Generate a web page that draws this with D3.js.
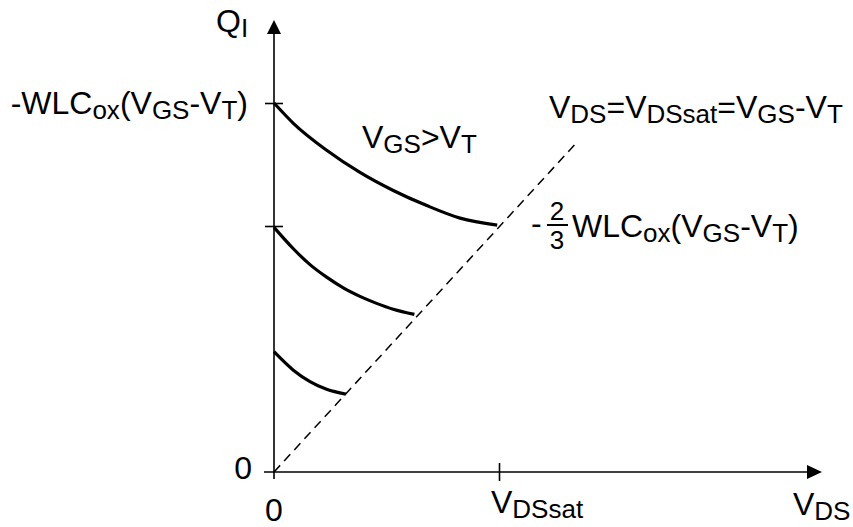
<!DOCTYPE html>
<html>
<head>
<meta charset="utf-8">
<script src="https://cdn.jsdelivr.net/npm/d3@7"></script>
<style>
  body { margin: 0; background: #fff; }
  svg text { font-family: "Liberation Sans", Arial, Helvetica, sans-serif; fill: #000; }
</style>
</head>
<body>
<svg id="chart"></svg>
<script>
// values in units of V_DSsat (x) and WLCox(VGS-VT) (y)
const curveTopX = [0, 0.086, 0.234, 0.382, 0.530, 0.679, 0.827, 0.992];
const curveTopY = [1, 0.945, 0.872, 0.812, 0.763, 0.722, 0.688, 0.669];
const curveMidX = [0, 0.086, 0.160, 0.234, 0.308, 0.382, 0.456, 0.530, 0.624];
const curveMidY = [0.663, 0.605, 0.562, 0.528, 0.499, 0.476, 0.457, 0.441, 0.427];
const curveLowX = [0, 0.086, 0.160, 0.234, 0.319];
const curveLowY = [0.326, 0.276, 0.245, 0.224, 0.211];
const satLineX = [0, 1.347];
const satLineY = [0, 0.894];
const yTicks = [0, 2 / 3, 1];
const xTicks = [1];

document.addEventListener("DOMContentLoaded", function() {
    const width = 853, height = 527;
    const svg = d3.select("#chart").attr("width", width).attr("height", height);

    const x = d3.scaleLinear().domain([0, 1]).range([274, 499]);
    const y = d3.scaleLinear().domain([0, 1]).range([472, 103]);

    const MAIN = 32, SUB = 26, SHIFT = 5;

    // text made of normal and subscript parts
    function label(px, py, parts, anchor) {
        const t = svg.append("text")
            .attr("x", px).attr("y", py)
            .attr("text-anchor", anchor || "start")
            .attr("font-size", MAIN);
        let down = false;
        parts.forEach(p => {
            const sub = p[1];
            const ts = t.append("tspan").text(p[0]).attr("font-size", sub ? SUB : MAIN);
            if (sub && !down) { ts.attr("dy", SHIFT); down = true; }
            else if (!sub && down) { ts.attr("dy", -SHIFT); down = false; }
        });
        return t;
    }

    // axes lines with arrows
    svg.append("line")
       .attr("x1", x(0)).attr("x2", x(0))
       .attr("y1", y(0) + 7).attr("y2", 32)
       .attr("stroke", "#000").attr("stroke-width", 1.6);
    svg.append("path")
       .attr("d", `M${x(0)},20 L${x(0) - 7},34 L${x(0) + 7},34 Z`)
       .attr("fill", "#000");
    svg.append("line")
       .attr("x1", x(0) - 10).attr("x2", 810)
       .attr("y1", y(0)).attr("y2", y(0))
       .attr("stroke", "#000").attr("stroke-width", 1.6);
    svg.append("path")
       .attr("d", `M822,${y(0)} L807,${y(0) - 7} L807,${y(0) + 7} Z`)
       .attr("fill", "#000");

    // tick marks crossing the axes
    const yAxis = svg.append("g")
       .attr("transform", `translate(${x(0) + 9},0)`)
       .call(d3.axisLeft(y).tickValues(yTicks.filter(d => d > 0)).tickSize(18).tickFormat(""));
    yAxis.select(".domain").remove();
    yAxis.selectAll("line").attr("stroke-width", 1.6);

    const xAxis = svg.append("g")
       .attr("transform", `translate(0,${y(0) + 9})`)
       .call(d3.axisTop(x).tickValues(xTicks).tickSize(18).tickFormat(""));
    xAxis.select(".domain").remove();
    xAxis.selectAll("line").attr("stroke-width", 1.6);

    // saturation line
    const line = d3.line().x(d => x(d[0])).y(d => y(d[1]));
    svg.append("path")
       .attr("d", line(d3.zip(satLineX, satLineY)))
       .attr("fill", "none").attr("stroke", "#000")
       .attr("stroke-width", 1.5).attr("stroke-dasharray", "9,6");

    const smooth = d3.line().x(d => x(d[0])).y(d => y(d[1])).curve(d3.curveMonotoneX);
    [[curveTopX, curveTopY], [curveMidX, curveMidY], [curveLowX, curveLowY]].forEach(c => {
        svg.append("path")
           .attr("d", smooth(d3.zip(c[0], c[1])))
           .attr("fill", "none").attr("stroke", "#000")
           .attr("stroke-width", 3.2);
    });

    // labels
    label(216, 32, [["Q", false], ["I", true]]);
    label(248, y(1) + 11, [["-WLC", false], ["ox", true], ["(V", false], ["GS", true], ["-V", false], ["T", true], [")", false]], "end");
    label(252, y(0) + 7, [["0", false]], "end");
    label(x(0), 521, [["0", false]], "middle");
    label(x(1) - 8, 513, [["V", false], ["DSsat", true]]);
    label(793, 515, [["V", false], ["DS", true]]);
    label(362, 148, [["V", false], ["GS", true], [">V", false], ["T", true]]);
    label(549, 118, [["V", false], ["DS", true], ["=V", false], ["DSsat", true], ["=V", false], ["GS", true], ["-V", false], ["T", true]]);

    // -2/3 WLCox(VGS-VT)
    svg.append("text").attr("x", 531).attr("y", 234).attr("font-size", MAIN).text("-");
    svg.append("text").attr("x", 557).attr("y", 220).attr("font-size", 26).attr("text-anchor", "middle").text("2");
    svg.append("line").attr("x1", 547).attr("x2", 568).attr("y1", 225).attr("y2", 225)
       .attr("stroke", "#000").attr("stroke-width", 2);
    svg.append("text").attr("x", 557).attr("y", 249).attr("font-size", 26).attr("text-anchor", "middle").text("3");
    label(572, 237, [["WLC", false], ["ox", true], ["(V", false], ["GS", true], ["-V", false], ["T", true], [")", false]]);
});
</script>
</body>
</html>
